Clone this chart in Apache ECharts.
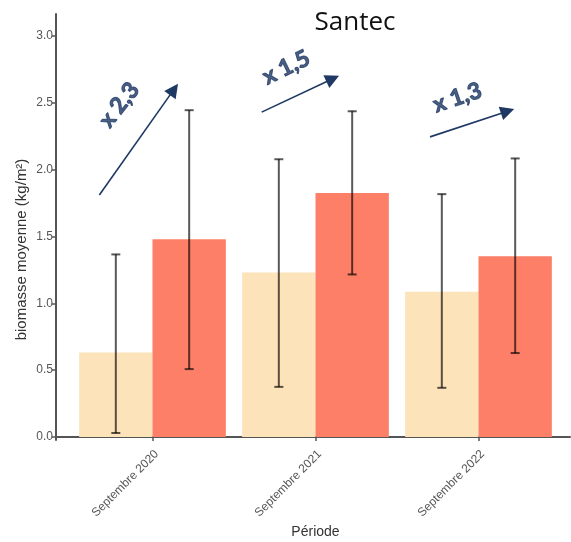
<!DOCTYPE html>
<html>
<head>
<meta charset="utf-8">
<script src="https://cdn.jsdelivr.net/npm/echarts@6/dist/echarts.min.js"></script>
<style>html,body{margin:0;padding:0;background:#fff}#c{width:571px;height:542px}</style>
</head>
<body>
<div id="c"></div>
<script>
// ---- data ----
var categories = ['Septembre 2020', 'Septembre 2021', 'Septembre 2022'];
var meanLight = [0.633, 1.231, 1.086];
var meanRed   = [1.480, 1.826, 1.353];
var lowLight  = [0.03, 0.375, 0.368];
var highLight = [1.366, 2.078, 1.817];
var lowRed    = [0.508, 1.216, 0.628];
var highRed   = [2.445, 2.437, 2.084];
var yTicks    = [0.0, 0.5, 1.0, 1.5, 2.0, 2.5, 3.0];
// annotations (axis units: x = category position 1..3, y = biomass)
var annoLabels = ['x 2,3', 'x 1,5', 'x 1,3'];
var annoLabelPos = [[0.80, 2.48], [1.825, 2.76], [2.875, 2.535]];
var annoLabelRot = [52, 26, 19];
var annoArrowFrom = [[0.675, 1.81], [1.671, 2.43], [2.704, 2.245]];
var annoArrowTo   = [[1.133, 2.60], [2.107, 2.68], [3.180, 2.437]];

var navy = '#1F3864';
var errColor = 'rgba(0,0,0,0.65)';

function errRender(sign) {
  return function (params, api) {
    var idx = api.value(0), lo = api.value(1), hi = api.value(2);
    var band = api.size([1, 0])[0];
    var off = sign * band * 0.225;
    var pLo = api.coord([idx, lo]);
    var pHi = api.coord([idx, hi]);
    var cx = pLo[0] + off, hw = 4.5;
    var st = { stroke: errColor, lineWidth: 2 };
    return {
      type: 'group',
      children: [
        { type: 'line', shape: { x1: cx, y1: pHi[1], x2: cx, y2: pLo[1] }, style: st },
        { type: 'line', shape: { x1: cx - hw, y1: pHi[1], x2: cx + hw, y2: pHi[1] }, style: st },
        { type: 'line', shape: { x1: cx - hw, y1: pLo[1], x2: cx + hw, y2: pLo[1] }, style: st }
      ]
    };
  };
}

var errLightData = categories.map(function (c, i) { return [i, lowLight[i], highLight[i]]; });
var errRedData = categories.map(function (c, i) { return [i, lowRed[i], highRed[i]]; });

var arrowData = annoArrowFrom.map(function (p, i) { return { coords: [p, annoArrowTo[i]] }; });
var labelData = annoLabels.map(function (t, i) {
  return { value: annoLabelPos[i], name: t, label: { rotate: annoLabelRot[i] } };
});

var axisGray = '#555555';
var chart = echarts.init(document.getElementById('c'));
chart.setOption({
  animation: false,
  backgroundColor: '#ffffff',
  title: {
    text: 'Santec', left: 350, top: 5, textAlign: 'center',
    textStyle: { fontFamily: 'Open Sans', fontWeight: 'normal', fontSize: 26, color: '#111' }
  },
  grid: [
    { left: 71, right: 11, top: 36, bottom: 105, containLabel: false, outerBoundsMode: 'none' },
    { left: 56, right: 1, top: 14, bottom: 102, containLabel: false, outerBoundsMode: 'none' }
  ],
  xAxis: [
    {
      type: 'category', gridIndex: 0, data: categories, offset: 3,
      axisLine: { show: false },
      axisTick: { show: true, alignWithLabel: true, length: 4, lineStyle: { color: axisGray, width: 1.5 } },
      axisLabel: { rotate: 45, color: '#555', fontSize: 12, fontFamily: 'Liberation Sans', margin: 8,
        verticalAlign: 'top', interval: 0 },
      name: 'Période', nameLocation: 'middle', nameGap: 85, nameMoveOverlap: false,
      nameTextStyle: { color: '#333', fontSize: 14, fontFamily: 'Liberation Sans' }
    },
    {
      type: 'value', gridIndex: 1, min: 0.409, max: 3.563,
      axisLine: { show: true, lineStyle: { color: axisGray, width: 2 } },
      axisTick: { show: false }, axisLabel: { show: false }, splitLine: { show: false }
    }
  ],
  yAxis: [
    {
      type: 'value', gridIndex: 0, min: yTicks[0], max: yTicks[yTicks.length - 1], interval: 0.5, offset: 15,
      axisLine: { show: false },
      axisTick: { show: true, length: 4, lineStyle: { color: axisGray, width: 1.5 } },
      axisLabel: { color: '#555', fontSize: 12, fontFamily: 'Liberation Sans', margin: 3,
        formatter: function (v) { return v.toFixed(1); } },
      splitLine: { show: false },
      name: 'biomasse moyenne (kg/m²)', nameLocation: 'middle', nameGap: 27, nameRotate: 90,
      nameMoveOverlap: false,
      nameTextStyle: { color: '#333', fontSize: 15, fontFamily: 'Liberation Sans', padding: [0, 26, 0, 0] }
    },
    {
      type: 'value', gridIndex: 1, min: -0.022, max: 3.164,
      axisLine: { show: true, lineStyle: { color: axisGray, width: 2 } },
      axisTick: { show: false }, axisLabel: { show: false }, splitLine: { show: false }
    }
  ],
  series: [
    {
      name: 'Groupe 1', type: 'bar', xAxisIndex: 0, yAxisIndex: 0, data: meanLight,
      barGap: '0%', barCategoryGap: '10%', itemStyle: { color: '#FCE3BA' }
    },
    {
      name: 'Groupe 2', type: 'bar', xAxisIndex: 0, yAxisIndex: 0, data: meanRed,
      barGap: '0%', barCategoryGap: '10%', itemStyle: { color: '#FE7F67' }
    },
    {
      name: 'err1', type: 'custom', xAxisIndex: 0, yAxisIndex: 0, data: errLightData,
      encode: { x: 0, y: [1, 2] }, renderItem: errRender(-1), z: 5, silent: true
    },
    {
      name: 'err2', type: 'custom', xAxisIndex: 0, yAxisIndex: 0, data: errRedData,
      encode: { x: 0, y: [1, 2] }, renderItem: errRender(1), z: 5, silent: true
    },
    {
      name: 'arrows', type: 'lines', coordinateSystem: 'cartesian2d', xAxisIndex: 1, yAxisIndex: 1,
      data: arrowData, symbol: ['none', 'triangle'], symbolSize: [12, 14],
      lineStyle: { color: navy, width: 1.6, opacity: 1 }, itemStyle: { color: navy }, silent: true, z: 6
    },
    {
      name: 'ratios', type: 'scatter', xAxisIndex: 1, yAxisIndex: 1, data: labelData,
      symbolSize: 1, itemStyle: { color: 'transparent' }, silent: true, z: 7,
      label: {
        show: true, position: [0, 0], align: 'center', verticalAlign: 'middle', formatter: '{b}',
        color: navy, fontFamily: 'Lato', fontWeight: 'bold', fontSize: 23,
        textBorderColor: navy, textBorderWidth: 1, textShadowBlur: 0
      }
    }
  ]
});
</script>
</body>
</html>
